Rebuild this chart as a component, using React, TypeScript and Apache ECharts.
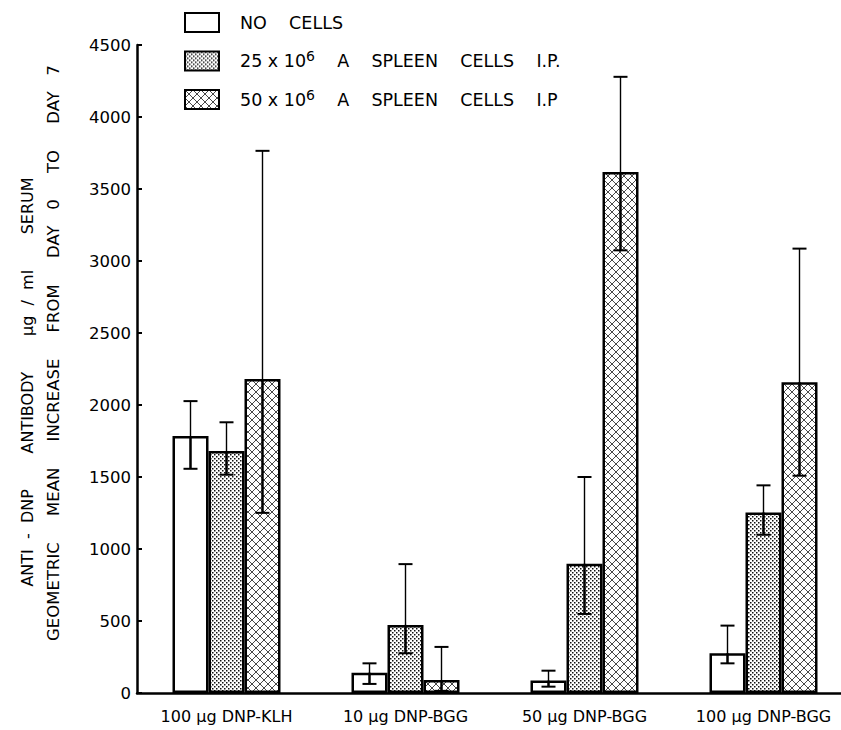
import React, { useEffect, useRef } from 'react';
import * as echarts from 'echarts';

const categories = ['100 µg DNP-KLH', '10 µg DNP-BGG', '50 µg DNP-BGG', '100 µg DNP-BGG'];
const seriesNames = ['NO CELLS', '25 x 10⁶ A SPLEEN CELLS I.P.', '50 x 10⁶ A SPLEEN CELLS I.P'];

const noCells = [1784, 141, 86, 276];
const cells25 = [1680, 473, 897, 1254];
const cells50 = [2180, 90, 3618, 2158];

const noCellsErr = [[1557, 2027], [63, 206], [44, 155], [206, 468]];
const cells25Err = [[1516, 1880], [276, 895], [549, 1500], [1099, 1442]];
const cells50Err = [[1251, 3765], [15, 320], [3074, 4279], [1509, 3086]];

const yMin = 0;
const yMax = 4500;
const yStep = 500;

const yTitleLine1 = 'ANTI  -  DNP       ANTIBODY       µg  /  ml       SERUM';
const yTitleLine2 = 'GEOMETRIC     MEAN     INCREASE     FROM     DAY   0     TO     DAY   7';

const FONT = "'DejaVu Sans', sans-serif";
const BAR_W = 36;

function makeDots(): HTMLCanvasElement {
  const c = document.createElement('canvas');
  c.width = 4;
  c.height = 4;
  const g = c.getContext('2d')!;
  g.fillStyle = '#fff';
  g.fillRect(0, 0, 4, 4);
  g.fillStyle = '#111';
  g.fillRect(0, 0, 1.5, 1.5);
  g.fillRect(2, 2, 1.5, 1.5);
  return c;
}

function makeCross(): HTMLCanvasElement {
  const c = document.createElement('canvas');
  const n = 8;
  c.width = n;
  c.height = n;
  const g = c.getContext('2d')!;
  g.fillStyle = '#fff';
  g.fillRect(0, 0, n, n);
  g.strokeStyle = '#333';
  g.lineWidth = 0.9;
  g.beginPath();
  g.moveTo(-1, -1);
  g.lineTo(n + 1, n + 1);
  g.moveTo(n + 1, -1);
  g.lineTo(-1, n + 1);
  g.stroke();
  return c;
}

export default function App() {
  const ref = useRef<HTMLDivElement>(null);
  useEffect(() => {
    if (!ref.current) return;
    const chart = echarts.init(ref.current, null, { renderer: 'svg' });
    const dots = { image: makeDots(), repeat: 'repeat' };
    const cross = { image: makeCross(), repeat: 'repeat' };
    const fills: any[] = ['#fff', dots, cross];
    const values = [noCells, cells25, cells50];
    const errs = [noCellsErr, cells25Err, cells50Err];

    const errData: any[] = [];
    errs.forEach((arr, s) => {
      arr.forEach((e, i) => {
        errData.push([i, e[0], e[1], values[s][i], s]);
      });
    });

    const barSeries = seriesNames.map((name, s) => ({
      name,
      type: 'bar',
      barWidth: BAR_W,
      barGap: '0%',
      data: values[s],
      itemStyle: { color: fills[s], borderColor: '#000', borderWidth: 2.5 },
      z: 2,
    }));

    const option: any = {
      animation: false,
      backgroundColor: '#fff',
      textStyle: { fontFamily: FONT },
      grid: { left: 137, top: 45, width: 716, bottom: 37 },
      legend: {
        orient: 'vertical',
        left: 184,
        top: 12,
        padding: 0,
        itemWidth: 34,
        itemHeight: 19,
        itemGap: 16,
        icon: 'rect',
        data: seriesNames,
        itemStyle: { borderColor: '#000', borderWidth: 2 },
        textStyle: {
          fontFamily: FONT,
          fontSize: 17,
          color: '#000',
          padding: [0, 0, 0, 16],
          rich: {
            n: { fontFamily: FONT, fontSize: 17.5, color: '#000' },
            s: { fontFamily: FONT, fontSize: 14, color: '#000', verticalAlign: 'top', padding: [0, 0, 10, 0] },
          },
        },
        formatter: (name: string) => {
          const sp = (t: string) => t.split(' ').join('    ');
          if (name.indexOf('⁶') >= 0) {
            const [a, b] = name.split('⁶');
            return `{n|${a}}{s|6}{n|${sp(b)}}`;
          }
          return `{n|${sp(name)}}`;
        },
      },
      xAxis: {
        type: 'category',
        data: categories,
        axisLine: { lineStyle: { color: '#000', width: 2.5 } },
        axisTick: { show: false },
        axisLabel: { color: '#000', fontSize: 16, fontFamily: FONT, margin: 15 },
      },
      yAxis: {
        type: 'value',
        min: yMin,
        max: yMax,
        interval: yStep,
        splitLine: { show: false },
        axisLine: { show: true, lineStyle: { color: '#000', width: 2.5 } },
        axisTick: { show: true, inside: true, length: 5, lineStyle: { color: '#000', width: 2 } },
        axisLabel: { color: '#000', fontSize: 16.5, fontFamily: FONT, margin: 6, formatter: (v: number) => String(v) },
      },
      graphic: [
        {
          type: 'text',
          x: 27,
          y: 382,
          rotation: Math.PI / 2,
          style: { text: yTitleLine1, fontFamily: FONT, fontSize: 16, fill: '#000', align: 'center', verticalAlign: 'middle' },
        },
        {
          type: 'text',
          x: 53,
          y: 353,
          rotation: Math.PI / 2,
          style: { text: yTitleLine2, fontFamily: FONT, fontSize: 16.5, fill: '#000', align: 'center', verticalAlign: 'middle' },
        },
      ],
      series: [
        ...barSeries,
        {
          type: 'custom',
          name: 'err',
          z: 5,
          data: errData,
          renderItem: (params: any, api: any) => {
            const cat = api.value(0);
            const lo = api.value(1);
            const hi = api.value(2);
            const v = api.value(3);
            const s = api.value(4);
            const pv = api.coord([cat, v]);
            const pl = api.coord([cat, lo]);
            const ph = api.coord([cat, hi]);
            const x = pv[0] + (s - 1) * BAR_W;
            const cap = 7;
            return {
              type: 'group',
              children: [
                { type: 'line', shape: { x1: x, y1: ph[1], x2: x, y2: pl[1] }, style: { stroke: '#000', lineWidth: 1.4 } },
                { type: 'line', shape: { x1: x, y1: pv[1], x2: x, y2: pl[1] }, style: { stroke: '#000', lineWidth: 2.4 } },
                { type: 'line', shape: { x1: x - cap, y1: ph[1], x2: x + cap, y2: ph[1] }, style: { stroke: '#000', lineWidth: 2 } },
                { type: 'line', shape: { x1: x - cap, y1: pl[1], x2: x + cap, y2: pl[1] }, style: { stroke: '#000', lineWidth: 2 } },
              ],
            };
          },
        },
      ],
    };
    chart.setOption(option);
    return () => chart.dispose();
  }, []);
  return <div ref={ref} style={{ position: 'fixed', left: 0, top: 0, width: 870, height: 730, background: '#fff' }} />;
}
